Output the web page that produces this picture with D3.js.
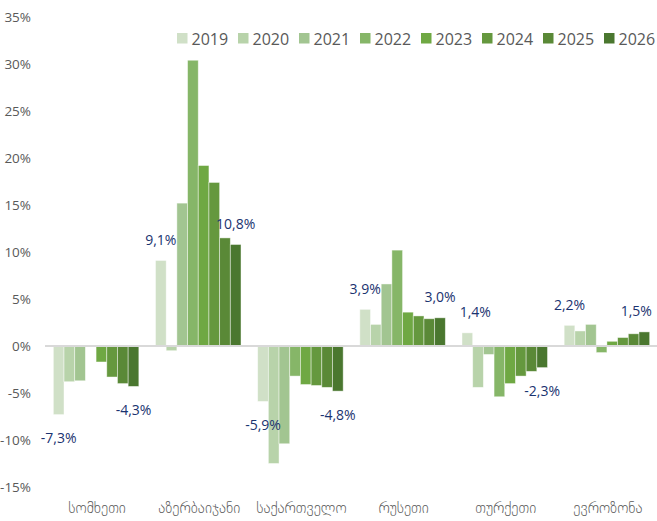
<!DOCTYPE html>
<html>
<head>
<meta charset="utf-8">
<script src="https://cdn.jsdelivr.net/npm/d3@7"></script>
<style>
  html, body { margin: 0; padding: 0; background: #fff; }
  svg { display: block; }
</style>
</head>
<body>
<svg id="chart" width="657" height="521"></svg>
<script>
// ---- data ----
const categories = ["სომხეთი", "აზერბაიჯანი", "საქართველო", "რუსეთი", "თურქეთი", "ევროზონა"];
const years = ["2019", "2020", "2021", "2022", "2023", "2024", "2025", "2026"];
const v2019 = [-7.3, 9.1, -5.9, 3.9, 1.4, 2.2];
const v2020 = [-3.8, -0.5, -12.5, 2.3, -4.4, 1.6];
const v2021 = [-3.7, 15.2, -10.4, 6.6, -0.9, 2.3];
const v2022 = [null, 30.4, -3.2, 10.2, -5.4, -0.7];
const v2023 = [-1.7, 19.2, -4.1, 3.6, -4.0, 0.5];
const v2024 = [-3.3, 17.4, -4.2, 3.2, -3.2, 0.9];
const v2025 = [-4.0, 11.5, -4.4, 2.9, -2.7, 1.3];
const v2026 = [-4.3, 10.8, -4.8, 3.0, -2.3, 1.5];
const seriesValues = [v2019, v2020, v2021, v2022, v2023, v2024, v2025, v2026];
const yTicks = [-15, -10, -5, 0, 5, 10, 15, 20, 25, 30, 35];
// labelled bars: [category index, year index, horizontal nudge]
const labelled = [[0,0,0],[0,7,0],[1,0,0],[1,7,0],[2,0,0],[2,7,0],[3,0,0],[3,7,0],[4,0,8],[4,7,0],[5,0,0],[5,7,-8]];

const colors = ["#d0e0c7", "#b8d3aa", "#a2c591", "#86b668", "#6fa843", "#65983e", "#5a8937", "#4a772f"];

// ---- layout ----
const svg = d3.select("#chart");
const plotL = 45, plotR = 658, plotT = 17, plotB = 487;
const font = "'Open Sans', 'Liberation Sans', sans-serif";

const x0 = d3.scaleBand().domain(categories).range([plotL, plotR]).paddingInner(0.163).paddingOuter(0.0815);
const x1 = d3.scaleBand().domain(years).range([0, x0.bandwidth()]).padding(0);
const y = d3.scaleLinear().domain([-15, 35]).range([plotB, plotT]);

// y axis
const yAxis = d3.axisLeft(y).tickValues(yTicks).tickSize(0).tickPadding(0)
  .tickFormat(d => d + "%");
const gy = svg.append("g").attr("transform", "translate(31,0)").call(yAxis);
gy.select(".domain").remove();
gy.selectAll("text").attr("font-family", font).attr("font-size", 13.5).attr("fill", "#595959");

// bars
const groups = svg.append("g").selectAll("g")
  .data(categories).join("g")
  .attr("transform", d => `translate(${x0(d)},0)`);

groups.selectAll("rect")
  .data((c, ci) => years.map((yr, yi) => ({ yr, yi, v: seriesValues[yi][ci] })).filter(d => d.v !== null))
  .join("rect")
  .attr("x", d => x1(d.yr))
  .attr("width", x1.bandwidth())
  .attr("y", d => y(Math.max(0, d.v)))
  .attr("height", d => Math.abs(y(d.v) - y(0)))
  .attr("fill", d => colors[d.yi])
  .attr("stroke", "#ffffff")
  .attr("stroke-opacity", 0.55)
  .attr("stroke-width", 0.8);

// zero line
svg.append("line")
  .attr("x1", plotL).attr("x2", 657)
  .attr("y1", y(0)).attr("y2", y(0))
  .attr("stroke", "#d9d9d9").attr("stroke-width", 2);

// data labels
svg.append("g").selectAll("text")
  .data(labelled)
  .join("text")
  .attr("x", d => x0(categories[d[0]]) + x1(years[d[1]]) + x1.bandwidth() / 2 + d[2])
  .attr("y", d => {
    const v = seriesValues[d[1]][d[0]];
    return v >= 0 ? y(v) - 21 : y(v) + 23;
  })
  .attr("text-anchor", "middle")
  .attr("dominant-baseline", "central")
  .attr("font-family", font)
  .attr("font-size", 14)
  .attr("fill", "#1a3370")
  .text(d => String(seriesValues[d[1]][d[0]].toFixed(1)).replace(".", ",") + "%");

// category labels
svg.append("g").selectAll("text")
  .data(categories).join("text")
  .attr("x", d => x0(d) + x0.bandwidth() / 2 + 1)
  .attr("y", 513)
  .attr("text-anchor", "middle")
  .attr("font-family", "'DejaVu Sans', sans-serif")
  .attr("font-weight", 200)
  .attr("font-size", 15)
  .attr("fill", "#595959")
  .text(d => d);

// legend
const legend = svg.append("g").selectAll("g")
  .data(years).join("g")
  .attr("transform", (d, i) => `translate(${177 + i * 61},33)`);
legend.append("rect").attr("width", 10.5).attr("height", 10.5)
  .attr("fill", (d, i) => colors[i]);
legend.append("text").attr("x", 14.5).attr("y", 11.5)
  .attr("font-family", font).attr("font-size", 16).attr("fill", "#595959")
  .text(d => d);
</script>
</body>
</html>
